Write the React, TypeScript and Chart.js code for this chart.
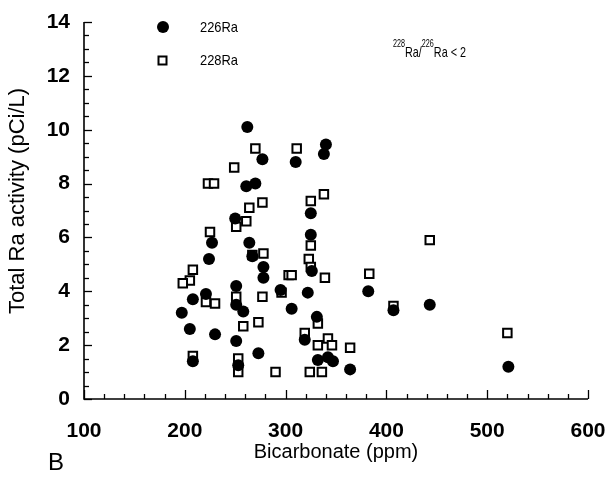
import React, { useEffect, useRef } from "react";
import { Chart, registerables } from "chart.js";

Chart.register(...registerables);

// 226Ra (filled circles): bicarbonate (ppm), total Ra activity (pCi/L)
const ra226X = [262, 277, 261, 270, 250, 227, 264, 224, 267, 278, 278, 251, 208, 221, 251, 258, 295, 197, 205, 230, 251, 273, 208, 253, 310, 340, 338, 325, 325, 326, 382, 322, 306, 331, 319, 332, 342, 347, 364, 407, 443, 521];
const ra226Y = [10.1, 8.9, 7.9, 8.0, 6.7, 5.8, 5.8, 5.2, 5.3, 4.9, 4.5, 4.2, 3.7, 3.9, 3.5, 3.25, 4.05, 3.2, 2.6, 2.4, 2.15, 1.7, 1.4, 1.25, 8.8, 9.45, 9.1, 6.9, 6.1, 4.75, 4.0, 3.95, 3.35, 3.05, 2.2, 1.45, 1.55, 1.4, 1.1, 3.3, 3.5, 1.2];

// 228Ra (open squares)
const ra228X = [270, 249, 223, 229, 277, 264, 251, 261, 225, 267, 278, 208, 205, 198, 303, 221, 230, 251, 277, 296, 258, 273, 208, 253, 253, 290, 311, 338, 325, 325, 323, 325, 306, 339, 383, 332, 319, 342, 332, 346, 364, 324, 336, 443, 407, 520];
const ra228Y = [9.3, 8.6, 8.0, 8.0, 7.3, 7.1, 6.4, 6.6, 6.2, 5.35, 5.4, 4.8, 4.4, 4.3, 4.6, 3.6, 3.55, 3.8, 3.8, 3.95, 2.7, 2.85, 1.6, 1.5, 1.0, 1.0, 9.3, 7.6, 7.35, 5.7, 5.2, 4.9, 4.6, 4.5, 4.65, 2.8, 2.45, 2.25, 2.0, 2.0, 1.9, 1.0, 1.0, 5.9, 3.45, 2.45];

const seriesNames = ["226Ra", "228Ra"];
const xTitle = "Bicarbonate (ppm)";
const yTitle = "Total Ra activity (pCi/L)";
const panelLabel = "B";

const FONT = "'Liberation Sans', Arial, Helvetica, sans-serif";

function condensedText(ctx: any, text: string, x: number, y: number, sx: number) {
  ctx.save();
  ctx.translate(x, y);
  ctx.scale(sx, 1);
  ctx.fillText(text, 0, 0);
  const w = ctx.measureText(text).width * sx;
  ctx.restore();
  return w;
}

const decorPlugin = {
  id: "decor",
  afterDraw(chart: any) {
    const ctx = chart.ctx;
    const xs = chart.scales.x;
    const ys = chart.scales.y;
    const { left, right, top, bottom } = chart.chartArea;
    ctx.save();
    ctx.strokeStyle = "#000";
    ctx.lineWidth = 1.6;
    ctx.beginPath();
    ctx.moveTo(left, top);
    ctx.lineTo(left, bottom);
    ctx.lineTo(right, bottom);
    ctx.stroke();
    // y ticks (inward)
    ctx.lineWidth = 1.3;
    for (let v = 0; v <= 14.001; v += 0.5) {
      const py = Math.round(ys.getPixelForValue(v)) + 0.5;
      const major = Math.abs(v - Math.round(v / 2) * 2) < 1e-6;
      ctx.beginPath();
      ctx.moveTo(left, py);
      ctx.lineTo(left + (major ? 8 : 5), py);
      ctx.stroke();
    }
    // x ticks (inward)
    for (let v = 100; v <= 600.001; v += 20) {
      const px = Math.round(xs.getPixelForValue(v)) + 0.5;
      const major = v % 100 === 0;
      ctx.beginPath();
      ctx.moveTo(px, bottom);
      ctx.lineTo(px, bottom - (major ? 9 : 5));
      ctx.stroke();
    }
    // y axis title
    ctx.fillStyle = "#000";
    ctx.save();
    ctx.translate(18, 201);
    ctx.rotate(-Math.PI / 2);
    ctx.font = `22px ${FONT}`;
    ctx.textAlign = "center";
    ctx.textBaseline = "middle";
    ctx.fillText(yTitle, 0, 0);
    ctx.restore();
    // legend
    ctx.beginPath();
    ctx.arc(163, 27, 6, 0, Math.PI * 2);
    ctx.fill();
    ctx.lineWidth = 2;
    ctx.strokeRect(158.5, 56.5, 8, 8);
    ctx.font = `15px ${FONT}`;
    ctx.textBaseline = "middle";
    ctx.textAlign = "left";
    condensedText(ctx, seriesNames[0], 200, 28, 0.86);
    condensedText(ctx, seriesNames[1], 200, 61, 0.86);
    // ratio annotation
    let x = 393;
    const yb = 57;
    const sx = 0.72;
    ctx.textBaseline = "alphabetic";
    ctx.font = `10px ${FONT}`;
    x += condensedText(ctx, "228", x, yb - 10, sx);
    ctx.font = `15px ${FONT}`;
    x += condensedText(ctx, "Ra/", x, yb, sx);
    ctx.font = `10px ${FONT}`;
    x += condensedText(ctx, "226", x, yb - 10, sx);
    ctx.font = `15px ${FONT}`;
    condensedText(ctx, "Ra < 2", x, yb, sx);
    // panel label
    ctx.font = `24px ${FONT}`;
    ctx.textBaseline = "middle";
    ctx.fillText(panelLabel, 48, 463);
    ctx.restore();
  },
};

export default function App() {
  const ref = useRef<HTMLCanvasElement | null>(null);
  useEffect(() => {
    if (!ref.current) return;
    const chart = new Chart(ref.current, {
      type: "scatter",
      data: {
        datasets: [
          {
            label: seriesNames[0],
            data: ra226X.map((x, i) => ({ x, y: ra226Y[i] })),
            pointStyle: "circle",
            pointRadius: 6,
            pointHoverRadius: 6,
            backgroundColor: "#000",
            borderColor: "#000",
            borderWidth: 0,
          },
          {
            label: seriesNames[1],
            data: ra228X.map((x, i) => ({ x, y: ra228Y[i] })),
            pointStyle: "rect",
            pointRadius: 6,
            pointHoverRadius: 6,
            backgroundColor: "#fff",
            borderColor: "#000",
            borderWidth: 2,
          },
        ],
      },
      options: {
        animation: false,
        responsive: true,
        maintainAspectRatio: false,
        layout: { padding: { top: 22, right: 22, left: 0, bottom: 0 } },
        plugins: { legend: { display: false }, tooltip: { enabled: false } },
        scales: {
          x: {
            type: "linear",
            min: 100,
            max: 600,
            afterFit: (s: any) => { s.height = 97; s.paddingLeft = 0; s.paddingRight = 0; },
            grid: { display: false, drawTicks: false },
            border: { display: false },
            ticks: {
              stepSize: 100,
              padding: 20,
              color: "#000",
              font: { family: FONT, size: 21, weight: "bold" },
            },
            title: {
              display: true,
              text: xTitle,
              color: "#000",
              font: { family: FONT, size: 20 },
              padding: { top: 0, bottom: 32 },
            },
          },
          y: {
            type: "linear",
            min: 0,
            max: 14,
            afterFit: (s: any) => { s.width = 84; s.paddingTop = 0; s.paddingBottom = 0; },
            grid: { display: false, drawTicks: false },
            border: { display: false },
            ticks: {
              stepSize: 2,
              padding: 14,
              color: "#000",
              font: { family: FONT, size: 21, weight: "bold" },
            },
            title: { display: false },
          },
        },
      },
      plugins: [decorPlugin],
    });
    return () => chart.destroy();
  }, []);
  return (
    <div style={{ position: "absolute", left: 0, top: 0, width: 610, height: 496, background: "#fff" }}>
      <canvas ref={ref} />
    </div>
  );
}
